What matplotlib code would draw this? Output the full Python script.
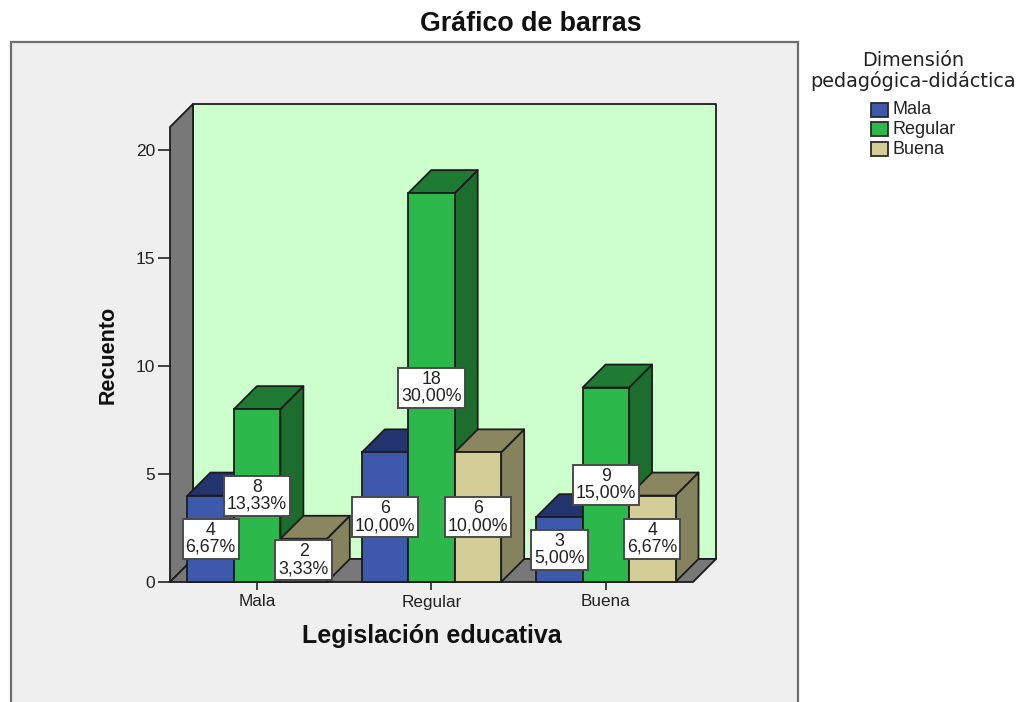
import matplotlib
matplotlib.use('Agg')
import matplotlib.pyplot as plt
from matplotlib.patches import Polygon, Rectangle

plt.rcParams['font.family'] = ['Liberation Sans', 'DejaVu Sans']

categories = ['Mala', 'Regular', 'Buena']
series_names = ['Mala', 'Regular', 'Buena']
counts = [[4, 6, 3], [8, 18, 9], [2, 6, 4]]
percents = [['6,67%', '10,00%', '5,00%'],
            ['13,33%', '30,00%', '15,00%'],
            ['3,33%', '10,00%', '6,67%']]
y_ticks = [0, 5, 10, 15, 20]

front_cols = ['#3E58AC', '#2CB84B', '#D3CE97']
top_cols = ['#24346F', '#1F7A33', '#8A8660']
side_cols = ['#24346F', '#1D6E2E', '#85825E']
edge = '#1c1c1c'

W, H = 1018, 702
fig = plt.figure(figsize=(W / 100, H / 100), dpi=100, facecolor='white')

# fondo gris del grafico, abierto por abajo
fig.add_artist(Rectangle((11 / W, -0.05), 787 / W, 0.05 + (H - 42) / H, transform=fig.transFigure,
                         fc='#EFEFEF', ec='#6E6E6E', lw=1.6, zorder=-1))

ax = fig.add_axes([170 / W, (H - 582) / H, 523 / W, 455 / H])
ax.patch.set_alpha(0)
ax.set_xlim(-0.5, 2.5)
ax.set_ylim(0, 21.06)

# profundidad en unidades de datos (23 px)
dx = 23 / 174.5
dy = 23 / 21.6
x0, x1 = -0.5, 2.5
y1 = 21.06
bar_w = 46.5 / 174.5


def poly(pts, fc, z=1):
    ax.add_patch(Polygon(pts, closed=True, fc=fc, ec=edge, lw=1.3, joinstyle='round', clip_on=False, zorder=z))


# paredes y suelo
poly([(x0 + dx, dy), (x1 + dx, dy), (x1 + dx, y1 + dy), (x0 + dx, y1 + dy)], '#CCFFCC')
poly([(x0, 0), (x0 + dx, dy), (x0 + dx, y1 + dy), (x0, y1)], '#787878')
poly([(x0, 0), (x1, 0), (x1 + dx, dy), (x0 + dx, dy)], '#787878')

# barras, de izquierda a derecha
z = 2
for c in range(len(categories)):
    for s in range(len(series_names)):
        v = counts[s][c]
        left = c + (s - 1.5) * bar_w
        right = left + bar_w
        poly([(right, 0), (right + dx, dy), (right + dx, v + dy), (right, v)], side_cols[s], z)
        poly([(left, v), (right, v), (right + dx, v + dy), (left + dx, v + dy)], top_cols[s], z)
        ax.bar(left + bar_w / 2, v, width=bar_w, color=front_cols[s], edgecolor=edge, linewidth=1.3,
               zorder=z, clip_on=False)
        z += 1

# etiquetas
for c in range(len(categories)):
    for s in range(len(series_names)):
        v = counts[s][c]
        ax.text(c + (s - 1) * bar_w, v / 2, '%d\n%s' % (v, percents[s][c]), ha='center', va='center',
                fontsize=12.8, linespacing=1.0, color='#222222', zorder=50,
                bbox=dict(boxstyle='square,pad=0.17', fc='white', ec='#4a4a4a', lw=1.4))

for sp in ax.spines.values():
    sp.set_visible(False)
ax.set_xticks(range(len(categories)))
ax.set_xticklabels(categories)
ax.set_yticks(y_ticks)
ax.tick_params(axis='x', length=6, width=1.2, labelsize=12.3, pad=3, color='#222222', labelcolor='#222222')
ax.tick_params(axis='y', length=8.5, width=1.2, labelsize=12.5, pad=2, color='#222222', labelcolor='#222222')

fig.text(531 / W, 1 - 24 / H, 'Gráfico de barras', ha='center', va='center', fontsize=19.3, fontweight='bold',
         color='#111111')
fig.text(432 / W, 1 - 636 / H, 'Legislación educativa', ha='center', va='center', fontsize=18, fontweight='bold',
         color='#111111')
fig.text(108 / W, 1 - 355 / H, 'Recuento', ha='center', va='center', rotation=90, fontsize=15.5, fontweight='bold',
         color='#111111')

# leyenda
fig.text(913 / W, 1 - 61 / H, 'Dimensión', ha='center', va='center', fontsize=13.9,
         family='DejaVu Sans', color='#222222')
fig.text(913 / W, 1 - 81 / H, 'pedagógica-didáctica', ha='center', va='center', fontsize=13.9,
         family='DejaVu Sans', color='#222222')
legend_y = [110, 129, 149]
for name, col, yy in zip(series_names, front_cols, legend_y):
    fig.add_artist(Rectangle((871 / W, 1 - (yy + 7) / H), 17 / W, 14 / H, transform=fig.transFigure,
                             fc=col, ec='#2a2a2a', lw=1.3))
    fig.text(892 / W, 1 - yy / H, name, ha='left', va='center', fontsize=13, color='#222222')

fig.savefig('out.png', dpi=100)
